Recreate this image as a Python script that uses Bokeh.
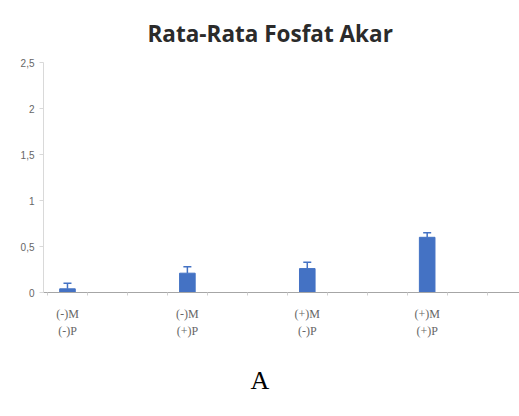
from bokeh.plotting import figure
from bokeh.models import FixedTicker, Whisker, ColumnDataSource, Title
from bokeh.embed import file_html
from bokeh.resources import INLINE

categories = ["(-)M\n(-)P", "(-)M\n(+)P", "(+)M\n(-)P", "(+)M\n(+)P"]
means = [0.04, 0.21, 0.26, 0.60]
errors = [0.06, 0.07, 0.07, 0.05]
y_ticks = [0, 0.5, 1, 1.5, 2, 2.5]
y_tick_labels = ["0", "0,5", "1", "1,5", "2", "2,5"]
title_text = "Rata-Rata Fosfat Akar"
panel_label = "A"

xs = list(range(1, len(categories) + 1))
upper = [m + e for m, e in zip(means, errors)]
src = ColumnDataSource(dict(x=xs, top=means, upper=upper))

p = figure(width=519, height=416, x_range=(0.8, 4.77), y_range=(0, 2.5),
           output_backend="svg", toolbar_location=None,
           min_border_left=43, min_border_top=62, min_border_bottom=124,
           min_border_right=0)
p.outline_line_color = None
p.xgrid.grid_line_color = None
p.ygrid.grid_line_color = None

p.title.text = title_text
p.title.align = "left"
p.title.offset = 104
p.title.standoff = 28
p.title.text_font = "Open Sans"
p.title.text_font_style = "bold"
p.title.text_font_size = "22.5px"
p.title.text_color = "#2b2b2b"

p.vbar(x="x", top="top", width=0.13, source=src, color="#4472C4")
w = Whisker(base="x", lower="top", upper="upper", source=src,
            line_color="#4472C4", line_width=1.5)
w.lower_head = None
w.upper_head.size = 8
w.upper_head.line_color = "#4472C4"
w.upper_head.line_width = 1.5
p.add_layout(w)

minor = [1 + (k + 0.5) / 3 for k in range(-1, 12)]
p.xaxis.ticker = FixedTicker(ticks=xs, minor_ticks=minor)
p.xaxis.major_label_overrides = {x: c for x, c in zip(xs, categories)}
p.xaxis.major_tick_out = 0
p.xaxis.major_tick_in = 0
p.xaxis.minor_tick_out = 3
p.xaxis.minor_tick_in = 0
p.xaxis.minor_tick_line_color = "#d0d0d0"
p.xaxis.axis_line_color = "#a6a6a6"
p.xaxis.major_label_text_font = "Liberation Serif"
p.xaxis.major_label_text_font_size = "12px"
p.xaxis.major_label_text_line_height = 1.25
p.xaxis.major_label_text_color = "#666666"
p.xaxis.major_label_standoff = 11

p.yaxis.ticker = FixedTicker(ticks=y_ticks, minor_ticks=[])
p.yaxis.major_label_overrides = {t: l for t, l in zip(y_ticks, y_tick_labels)}
p.yaxis.axis_line_color = "#d9d9d9"
p.yaxis.major_tick_line_color = "#d9d9d9"
p.yaxis.major_tick_out = 4
p.yaxis.major_tick_in = 0
p.yaxis.major_label_text_font = "Liberation Sans"
p.yaxis.major_label_text_font_size = "10px"
p.yaxis.major_label_text_color = "#666666"
p.yaxis.major_label_standoff = 5

a_title = Title(text=panel_label, align="left", offset=207,
                text_font="Liberation Serif", text_font_style="normal",
                text_font_size="26px", text_color="#000000", standoff=44)
p.add_layout(a_title, "below")

open("out.html", "w").write(file_html(p, INLINE))
